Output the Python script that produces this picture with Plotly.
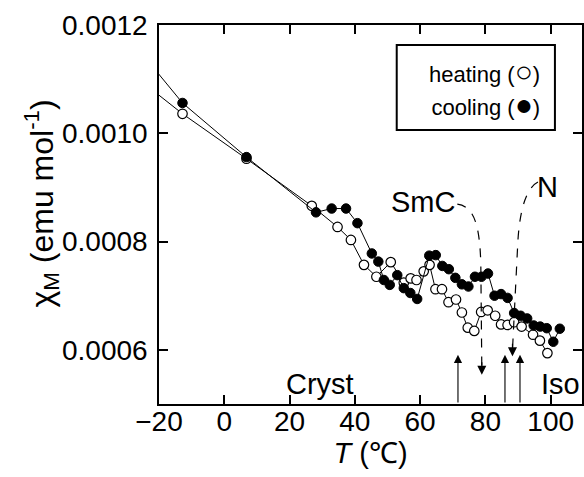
import plotly.graph_objects as go

# ---------------- data ----------------
heat_T = [-30, -12.8, 6.8, 26.8, 34.7, 38.8, 42.8, 46.6, 51.0, 55.0, 57.1, 58.9,
          61.1, 62.9, 64.7, 66.7, 68.7, 71.0, 72.8, 74.6, 76.6, 78.7, 80.7, 83.0,
          84.8, 86.8, 88.8, 91.1, 94.6, 96.7, 99.0]
heat_chi = [0.001118, 0.001036, 0.000953, 0.000866, 0.000827, 0.000803, 0.000757,
            0.000735, 0.000762, 0.000724, 0.000732, 0.000729, 0.000745, 0.000757,
            0.000712, 0.000712, 0.000688, 0.000693, 0.000669, 0.000641, 0.000635,
            0.000670, 0.000673, 0.000663, 0.000647, 0.000646, 0.000651, 0.000643,
            0.000628, 0.000617, 0.000594]

cool_T = [-30, -12.8, 6.8, 28.1, 32.9, 37.3, 40.8, 45.2, 47.2, 48.9, 50.7, 53.0,
          55.0, 57.0, 59.1, 62.8, 64.8, 66.8, 68.8, 70.8, 72.8, 74.8, 76.8, 78.8,
          80.8, 82.8, 84.8, 86.8, 88.8, 90.8, 92.8, 94.8, 96.8, 98.8, 100.8, 102.8]
cool_chi = [0.001182, 0.001056, 0.000956, 0.000854, 0.000861, 0.000861, 0.000834,
            0.000778, 0.000763, 0.000729, 0.000720, 0.000738, 0.000714, 0.000705,
            0.000694, 0.000774, 0.000775, 0.000755, 0.000749, 0.000733, 0.000721,
            0.000717, 0.000735, 0.000735, 0.000741, 0.000700, 0.000703, 0.000696,
            0.000668, 0.000663, 0.000658, 0.000645, 0.000643, 0.000640, 0.000615,
            0.000639]

x_ticks = [-20, 0, 20, 40, 60, 80, 100]
y_ticks = [0.0006, 0.0008, 0.0010, 0.0012]
y_ticktext = ["0.0006", "0.0008", "0.0010", "0.0012"]

# transition temperatures
heat_trans = [71.6, 86.0, 90.6]          # solid arrows (heating)
cool_trans = [78.9, 88.3]                # dashed arrows (cooling)
phase_labels = ["Cryst", "Iso"]
meso_labels = ["SmC", "N"]
legend_lines = [("heating", "○"), ("cooling", "●")]

FONT = "Liberation Sans, Arial, sans-serif"
X_RANGE = [-20, 109.6]
Y_RANGE = [0.0005, 0.0012]

fig = go.Figure()

fig.add_trace(go.Scatter(
    x=heat_T, y=heat_chi, mode="lines+markers", name="heating",
    line=dict(color="black", width=1),
    marker=dict(symbol="circle", size=9.5, color="white",
                line=dict(color="black", width=1.2)),
    showlegend=False))

fig.add_trace(go.Scatter(
    x=cool_T, y=cool_chi, mode="lines+markers", name="cooling",
    line=dict(color="black", width=1),
    marker=dict(symbol="circle", size=9.5, color="black",
                line=dict(color="black", width=1)),
    showlegend=False))

annotations = []
shapes = []

# solid arrows from the bottom axis for heating transitions
for t in heat_trans:
    annotations.append(dict(
        x=t, y=0.000591, ax=t, ay=Y_RANGE[0], xref="x", yref="y",
        axref="x", ayref="y", text="", showarrow=True,
        arrowhead=2, arrowsize=1.5, arrowwidth=1.1, arrowcolor="black"))

# dashed curved arrows for cooling transitions
smc_path = [(71.4, 0.000869), (76.6, 0.000865), (78.3, 0.000830),
            (78.6, 0.000757), (cool_trans[0], 0.000567)]
n_path = [(96.1, 0.000910), (92.5, 0.000899), (90.4, 0.000858),
          (89.9, 0.000794), (cool_trans[1], 0.000600)]
tips = [0.000554, 0.000588]
for pts, tip, t in zip([smc_path, n_path], tips, cool_trans):
    p = pts
    path = (f"M {p[0][0]},{p[0][1]} C {p[1][0]},{p[1][1]} {p[2][0]},{p[2][1]} "
            f"{p[3][0]},{p[3][1]} L {p[4][0]},{p[4][1]}")
    shapes.append(dict(type="path", path=path, xref="x", yref="y",
                       line=dict(color="black", width=1.2, dash="dash")))
    annotations.append(dict(
        x=t, y=tip, ax=0, ay=-14, xref="x", yref="y", text="",
        showarrow=True, arrowhead=2, arrowsize=1.5, arrowwidth=1.2,
        arrowcolor="black"))

# phase labels
annotations.append(dict(x=29.4, y=0.000537, xref="x", yref="y",
                        text=phase_labels[0], showarrow=False,
                        font=dict(family=FONT, size=29, color="black")))
annotations.append(dict(x=96.5, y=0.000537, xref="x", yref="y",
                        text=phase_labels[1], showarrow=False, xanchor="left",
                        font=dict(family=FONT, size=29, color="black")))
annotations.append(dict(x=60.8, y=0.000874, xref="x", yref="y",
                        text=meso_labels[0], showarrow=False,
                        font=dict(family=FONT, size=29, color="black")))
annotations.append(dict(x=98.9, y=0.000901, xref="x", yref="y",
                        text=meso_labels[1], showarrow=False,
                        font=dict(family=FONT, size=29, color="black")))

# legend box
shapes.append(dict(type="rect", xref="paper", yref="paper",
                   x0=0.562, x1=0.936, y0=0.723, y1=0.947,
                   line=dict(color="black", width=2), fillcolor="white"))
legend_text = "<br>".join(
    f"<span style='font-size:22px'>{w} (</span>"
    f"<span style='font-size:30px'>{s}</span>"
    f"<span style='font-size:22px'>)</span>" for w, s in legend_lines)
annotations.append(dict(x=0.906, y=0.8325, xref="paper", yref="paper",
                        text=legend_text, align="right",
                        showarrow=False, xanchor="right", yanchor="middle",
                        font=dict(family=FONT, size=25.4, color="black")))

# y-axis title as a rotated annotation
annotations.append(dict(x=-0.278, y=0.53, xref="paper", yref="paper",
                        text="χ<sub>M</sub> (emu mol<sup>-1</sup>)",
                        textangle=-90, showarrow=False,
                        xanchor="center", yanchor="middle",
                        font=dict(family=FONT, size=32, color="black")))

axis_common = dict(showline=True, linecolor="black", linewidth=1.5,
                   mirror="ticks", ticks="inside", ticklen=9, tickwidth=1.5,
                   tickcolor="black", showgrid=False, zeroline=False,
                   tickfont=dict(family=FONT, size=28, color="black"))

fig.update_layout(
    width=584, height=477,
    margin=dict(l=159, r=0, t=25, b=73),
    paper_bgcolor="white", plot_bgcolor="white",
    xaxis=dict(range=X_RANGE, tickvals=x_ticks, ticklabelstandoff=-8,
               title=dict(text="<i>T</i> (℃)", standoff=0,
                          font=dict(family=FONT, size=29, color="black")),
               **axis_common),
    yaxis=dict(range=Y_RANGE, tickvals=y_ticks, ticktext=y_ticktext,
               ticklabelstandoff=4, **axis_common),
    shapes=shapes, annotations=annotations,
    font=dict(family=FONT, color="black"),
)

fig.write_html("out.html",
               config={"displayModeBar": False},
               post_script="document.body.style.margin='0';"
                           "document.body.style.overflow='hidden';")
